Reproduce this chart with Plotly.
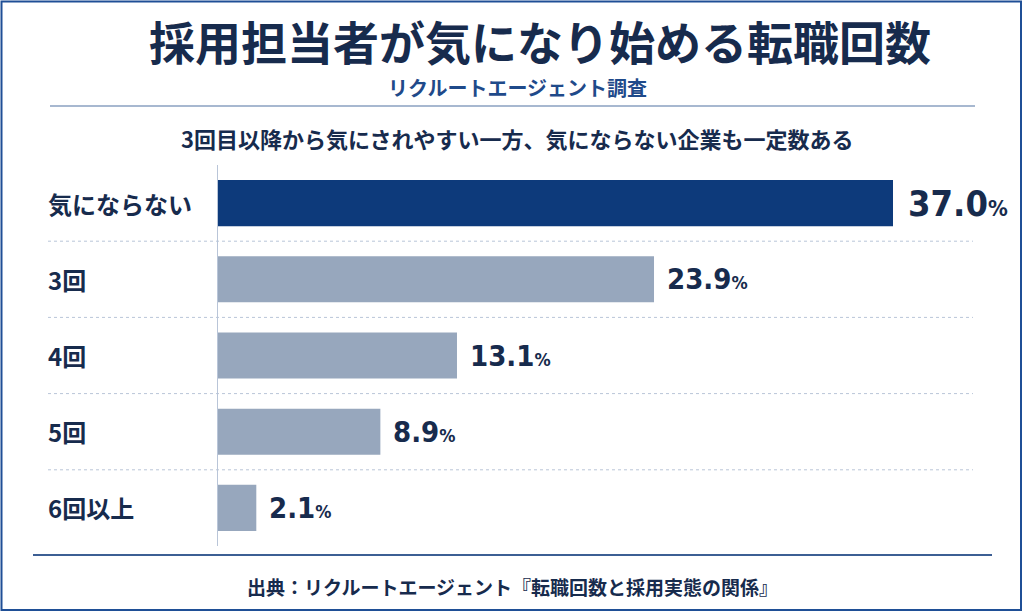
import plotly.graph_objects as go

# data
categories = ['気にならない', '3回', '4回', '5回', '6回以上']
values = [37.0, 23.9, 13.1, 8.9, 2.1]
bar_colors = ['#0d3a7b', '#97a7bd', '#97a7bd', '#97a7bd', '#97a7bd']

title = '採用担当者が気になり始める転職回数'
subtitle = 'リクルートエージェント調査'
note = '3回目以降から気にされやすい一方、気にならない企業も一定数ある'
source = '出典：リクルートエージェント『転職回数と採用実態の関係』'

W, H = 1024, 613
dark = '#172b4d'
jp = 'Noto Sans CJK JP'
num_font = 'Liberation Sans Narrow, DejaVu Sans Condensed, Roboto Condensed, Roboto'


def px(x):
    return x / W


def py(y):
    return 1 - y / H


fig = go.Figure()
fig.add_trace(go.Bar(
    x=values, y=categories, orientation='h',
    marker=dict(color=bar_colors, line=dict(width=0)),
    hoverinfo='skip',
))

# value labels, first one is bigger
for i, (c, v) in enumerate(zip(categories, values)):
    big = i == 0
    size = 36 if big else 29
    pct = 22 if big else 18
    fig.add_annotation(
        x=v, y=c, xref='x', yref='y', xanchor='left', yanchor='middle',
        xshift=13 if big else 11, showarrow=False,
        text=f"<b>{v:.1f}<span style='font-size:{pct}px'>%</span></b>",
        font=dict(family=num_font, size=size, color=dark),
    )
    # category labels on the left
    fig.add_annotation(
        x=px(46), y=c, xref='paper', yref='y', xanchor='left', yanchor='middle',
        showarrow=False, text=f'<b>{c}</b>',
        font=dict(family=jp, size=24, color=dark),
    )

# dotted separators between rows
for k in range(len(categories) - 1):
    fig.add_shape(type='line', xref='paper', yref='y',
                  x0=px(48), x1=px(973), y0=k + 0.5, y1=k + 0.5,
                  line=dict(color='#b9c5d8', width=1, dash='dot'))

# header / footer lines and border
fig.add_shape(type='line', xref='paper', yref='paper', x0=px(50), x1=px(975),
              y0=py(106), y1=py(106), line=dict(color='#8aa0c0', width=1.5))
fig.add_shape(type='line', xref='paper', yref='paper', x0=px(33), x1=px(992),
              y0=py(555), y1=py(555), line=dict(color='#3c5f94', width=2))
fig.add_shape(type='rect', xref='paper', yref='paper', x0=px(1.5), x1=px(1021),
              y0=py(610), y1=py(1.5), line=dict(color='#1f4f96', width=2))

headers = [
    (title, 540, 40, 46, dark),
    (subtitle, 517, 88, 20, '#1f4a8a'),
    (note, 517, 138, 22, dark),
    (source, 512, 586, 19, dark),
]
for txt, hx, hy, size, col in headers:
    fig.add_annotation(x=px(hx), y=py(hy), xref='paper', yref='paper',
                       xanchor='center', yanchor='middle', showarrow=False,
                       text=f'<b>{txt}</b>', font=dict(family=jp, size=size, color=col))

fig.update_layout(
    width=W, height=H,
    margin=dict(l=0, r=0, t=0, b=0),
    paper_bgcolor='white', plot_bgcolor='white',
    bargap=0.395, showlegend=False,
    xaxis=dict(domain=[px(218), px(975)], range=[0, 37 * 757 / 675],
               visible=False, fixedrange=True),
    yaxis=dict(domain=[py(546), py(165)], autorange='reversed',
               showticklabels=False, showgrid=False, zeroline=False,
               showline=True, linecolor='#b9c5d8', linewidth=1, fixedrange=True),
)

fig.write_html('out.html', config={'displayModeBar': False},
               post_script="document.body.style.margin='0';document.body.style.overflow='hidden';")
